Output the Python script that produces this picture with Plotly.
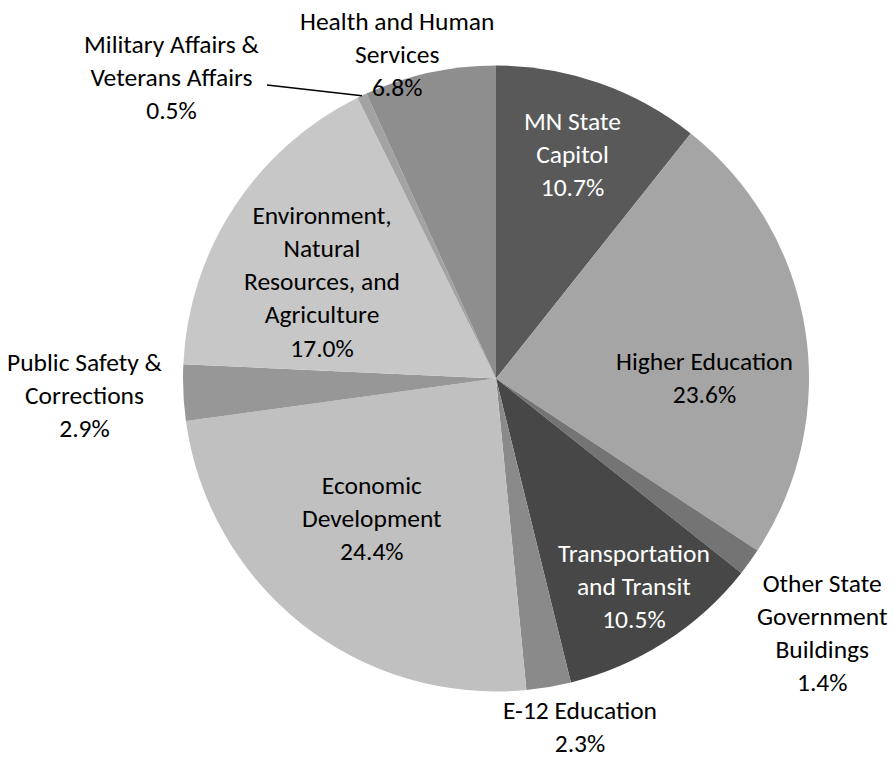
import math
import plotly.graph_objects as go

# ---- data ----
categories = [
    "MN State Capitol",
    "Higher Education",
    "Other State Government Buildings",
    "Transportation and Transit",
    "E-12 Education",
    "Economic Development",
    "Public Safety & Corrections",
    "Environment, Natural Resources, and Agriculture",
    "Military Affairs & Veterans Affairs",
    "Health and Human Services",
]
values = [10.7, 23.6, 1.4, 10.5, 2.3, 24.4, 2.9, 17.0, 0.5, 6.8]
label_lines = [
    "MN State<br>Capitol",
    "Higher Education",
    "Other State<br>Government<br>Buildings",
    "Transportation<br>and Transit",
    "E-12 Education",
    "Economic<br>Development",
    "Public Safety &<br>Corrections",
    "Environment,<br>Natural<br>Resources, and<br>Agriculture",
    "Military Affairs &<br>Veterans Affairs",
    "Health and Human<br>Services",
]

# ---- style ----
colors = ["#595959", "#a5a5a5", "#747474", "#474747", "#8a8a8a",
          "#c0c0c0", "#979797", "#c7c7c7", "#a3a3a3", "#8e8e8e"]
text_colors = ["white", "black", "black", "white", "black",
               "black", "black", "black", "black", "black"]
# label centers in pixels (x, y) from top-left
label_pos = [(572, 155), (704, 378), (822, 633), (634, 586), (580, 727),
             (372, 518), (85, 395), (322, 282), (172, 77), (397, 55)]

W, H = 893, 761
cx, cy, R = 496, 378.5, 313
FONT = "Carlito, Lato, 'Open Sans', sans-serif"

fig = go.Figure(go.Pie(
    labels=categories,
    values=values,
    sort=False,
    direction="clockwise",
    rotation=0,
    textinfo="none",
    hoverinfo="label+percent",
    marker=dict(colors=colors, line=dict(width=0)),
    domain=dict(x=[(cx - R) / W, (cx + R) / W], y=[1 - (cy + R) / H, 1 - (cy - R) / H]),
    showlegend=False,
))

annotations = []
for name, lines, v, col, (px, py) in zip(categories, label_lines, values, text_colors, label_pos):
    annotations.append(dict(
        x=px / W, y=1 - py / H, xref="paper", yref="paper",
        text=f"{lines}<br>{v:.1f}%", showarrow=False,
        xanchor="center", yanchor="middle", align="center",
        font=dict(family=FONT, size=25.5, color=col),
    ))
fig.update_layout(annotations=annotations)

# leader line for the Military Affairs slice, computed from the slice's mid angle
total = sum(values)
idx = 8
mid = (sum(values[:idx]) + values[idx] / 2) / total * 2 * math.pi
ex = cx + R * math.sin(mid)
ey = cy - R * math.cos(mid)
fig.add_shape(type="line", xref="paper", yref="paper",
              x0=267 / W, y0=1 - 85 / H, x1=ex / W, y1=1 - ey / H,
              line=dict(color="black", width=1.5))

fig.update_layout(
    width=W, height=H,
    margin=dict(l=0, r=0, t=0, b=0),
    paper_bgcolor="white", plot_bgcolor="white",
)
fig.write_html("out.html",
               config={"displayModeBar": False},
               post_script="document.body.style.margin='0';document.body.style.overflow='hidden';")
